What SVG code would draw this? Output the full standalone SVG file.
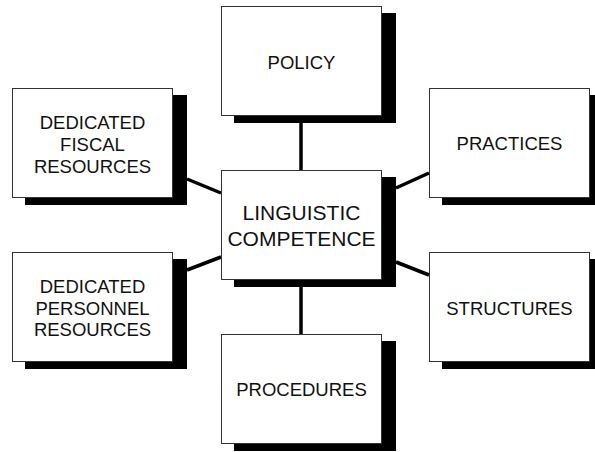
<svg xmlns="http://www.w3.org/2000/svg" width="595" height="452" viewBox="0 0 595 452">
<style>
.box{fill:#fff;stroke:#333;stroke-width:1}
.shadow{fill:#000}
.lbl{font-family:"Liberation Sans",Arial,sans-serif;font-size:18.5px;fill:#111;text-anchor:middle}
.big{font-size:21px}
.conn{stroke:#000;stroke-width:3.5;fill:none}
</style>
<rect width="595" height="452" fill="#fff"/>
<g id="connectors">
<line class="conn" x1="301" y1="115" x2="301" y2="170"/>
<line class="conn" x1="301" y1="287" x2="301" y2="334"/>
<line class="conn" x1="187" y1="179" x2="221" y2="193"/>
<line class="conn" x1="187" y1="270" x2="221" y2="257"/>
<line class="conn" x1="396" y1="188" x2="429" y2="173"/>
<line class="conn" x1="396" y1="262" x2="429" y2="275"/>
</g>
<g id="policy">
<rect class="shadow" x="234" y="13" width="162" height="110"/>
<rect class="box" x="221.5" y="6.5" width="160" height="109"/>
<text class="lbl" x="301.5" y="68.5">POLICY</text>
</g>
<g id="fiscal">
<rect class="shadow" x="25" y="95" width="162" height="110"/>
<rect class="box" x="12.5" y="88.5" width="160" height="109"/>
<text class="lbl" x="92.5" y="128.5">DEDICATED</text>
<text class="lbl" x="92.5" y="150.5">FISCAL</text>
<text class="lbl" x="92.5" y="172.5">RESOURCES</text>
</g>
<g id="practices">
<rect class="shadow" x="442" y="95" width="162" height="110"/>
<rect class="box" x="429.5" y="88.5" width="160" height="109"/>
<text class="lbl" x="509.5" y="150">PRACTICES</text>
</g>
<g id="linguistic">
<rect class="shadow" x="234" y="177" width="162" height="110"/>
<rect class="box" x="221.5" y="170.5" width="160" height="109"/>
<text class="lbl big" x="301.5" y="220">LINGUISTIC</text>
<text class="lbl big" x="301.5" y="245.5">COMPETENCE</text>
</g>
<g id="personnel">
<rect class="shadow" x="25" y="259" width="162" height="110"/>
<rect class="box" x="12.5" y="252.5" width="160" height="109"/>
<text class="lbl" x="92.5" y="292.5">DEDICATED</text>
<text class="lbl" x="92.5" y="314.5">PERSONNEL</text>
<text class="lbl" x="92.5" y="336">RESOURCES</text>
</g>
<g id="structures">
<rect class="shadow" x="442" y="259" width="162" height="110"/>
<rect class="box" x="429.5" y="252.5" width="160" height="109"/>
<text class="lbl" x="509.5" y="314.5">STRUCTURES</text>
</g>
<g id="procedures">
<rect class="shadow" x="234" y="341" width="162" height="110"/>
<rect class="box" x="221.5" y="334.5" width="160" height="109"/>
<text class="lbl" x="301.5" y="396">PROCEDURES</text>
</g>
</svg>
